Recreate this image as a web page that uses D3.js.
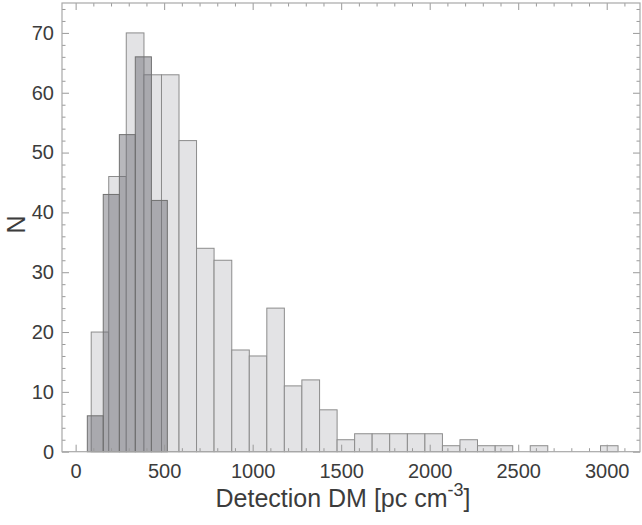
<!DOCTYPE html>
<html>
<head>
<meta charset="utf-8">
<script src="https://cdn.jsdelivr.net/npm/d3@7"></script>
<style>
  body { margin: 0; background: #fff; }
  svg text { font-family: "Liberation Sans", Arial, Helvetica, sans-serif; fill: #3c3c3c; }
</style>
</head>
<body>
<div id="chart"></div>
<script>
"use strict";

/*** data ***/

// all detections: bin edges (DM) and counts
var allEdges = [88, 187, 286, 386, 485, 584, 683, 782, 882, 981, 1080, 1179, 1278, 1378, 1477,
                1576, 1675, 1774, 1874, 1973, 2072, 2171, 2270, 2370, 2469, 2568, 2667, 2766, 2866, 2965, 3064];
var allCounts = [20, 46, 70, 63, 63, 52, 34, 32, 17, 16, 24, 11, 12, 7, 2,
                 3, 3, 3, 3, 3, 1, 2, 1, 1, 0, 1, 0, 0, 0, 1];

// dark subset
var subEdges = [66, 156, 247, 337, 428, 518];
var subCounts = [6, 43, 53, 66, 42];

var xMajor = [0, 500, 1000, 1500, 2000, 2500, 3000];
var yMajor = [0, 10, 20, 30, 40, 50, 60, 70];

/*** layout ***/
var W = 642, H = 525;
var pLeft = 62, pRight = 640, pTop = 3, pBottom = 451.7;

var svg = d3.select("#chart").append("svg")
    .attr("width", W)
    .attr("height", H);

var x = d3.scaleLinear().domain([-77, 3188]).range([pLeft, pRight]);
var y = d3.scaleLinear().domain([0, 75]).range([pBottom, pTop]);

// turn edges + counts into bin objects
var toBins = function(edges, counts) {
  return counts.map(function(c, i) { return {x0: edges[i], x1: edges[i + 1], n: c}; });
};

// light bars
svg.append("g").selectAll("rect")
  .data(toBins(allEdges, allCounts).filter(function(d) { return d.n > 0; }))
  .enter().append("rect")
  .attr("x", function(d) { return x(d.x0); })
  .attr("width", function(d) { return x(d.x1) - x(d.x0); })
  .attr("y", function(d) { return y(d.n); })
  .attr("height", function(d) { return y(0) - y(d.n); })
  .attr("fill", "#e3e3e5")
  .attr("stroke", "#8c8c8c")
  .attr("stroke-width", 1);

// dark bars, see-through so the light edges show
svg.append("g").selectAll("rect")
  .data(toBins(subEdges, subCounts))
  .enter().append("rect")
  .attr("x", function(d) { return x(d.x0); })
  .attr("width", function(d) { return x(d.x1) - x(d.x0); })
  .attr("y", function(d) { return y(d.n); })
  .attr("height", function(d) { return y(0) - y(d.n); })
  .attr("fill", "#6a6a72")
  .attr("fill-opacity", 0.48)
  .attr("stroke", "#707070")
  .attr("stroke-width", 1);

/*** axes, ticks on all four sides pointing in ***/
var xMinor = d3.range(0, 3201, 100).filter(function(v) { return v % 500 != 0; });
var yMinor = d3.range(0, 75, 2).filter(function(v) { return v % 10 != 0; });

var tickCol = "#9a9a9a";
var plain = d3.format("d");

var addAxis = function(axis, tx, ty, labels) {
  var g = svg.append("g").attr("transform", "translate(" + tx + "," + ty + ")").call(axis);
  g.select(".domain").remove();
  g.selectAll(".tick line").attr("stroke", tickCol);
  if (!labels) { g.selectAll(".tick text").remove(); }
  return g;
};

var xb = addAxis(d3.axisBottom(x).tickValues(xMajor).tickSize(-7).tickFormat(plain), 0, pBottom, true);
xb.selectAll(".tick text").attr("font-size", "20px").attr("dy", "0.71em").attr("y", 12);
addAxis(d3.axisBottom(x).tickValues(xMinor).tickSize(-3.5).tickFormat(""), 0, pBottom, false);
addAxis(d3.axisTop(x).tickValues(xMajor).tickSize(-7).tickFormat(""), 0, pTop, false);
addAxis(d3.axisTop(x).tickValues(xMinor).tickSize(-3.5).tickFormat(""), 0, pTop, false);

var yl = addAxis(d3.axisLeft(y).tickValues(yMajor).tickSize(-7).tickFormat(plain), pLeft, 0, true);
yl.selectAll(".tick text").attr("font-size", "20px").attr("x", -8);
addAxis(d3.axisLeft(y).tickValues(yMinor).tickSize(-3.5).tickFormat(""), pLeft, 0, false);
addAxis(d3.axisRight(y).tickValues(yMajor).tickSize(-7).tickFormat(""), pRight, 0, false);
addAxis(d3.axisRight(y).tickValues(yMinor).tickSize(-3.5).tickFormat(""), pRight, 0, false);

// frame
svg.append("rect")
  .attr("x", pLeft).attr("y", pTop)
  .attr("width", pRight - pLeft).attr("height", pBottom - pTop)
  .attr("fill", "none")
  .attr("stroke", "#a8a8a8")
  .attr("stroke-width", 1.2);

/*** axis titles ***/
var xt = svg.append("text")
  .attr("x", 343)
  .attr("y", 507)
  .attr("text-anchor", "middle")
  .attr("font-size", "25px");
xt.append("tspan").text("Detection DM [pc cm");
xt.append("tspan").attr("dy", -11).attr("font-size", "18px").text("-3");
xt.append("tspan").attr("dy", 11).text("]");

svg.append("text")
  .attr("transform", "translate(25," + y(38) + ") rotate(-90)")
  .attr("text-anchor", "middle")
  .attr("font-size", "25px")
  .text("N");
</script>
</body>
</html>
